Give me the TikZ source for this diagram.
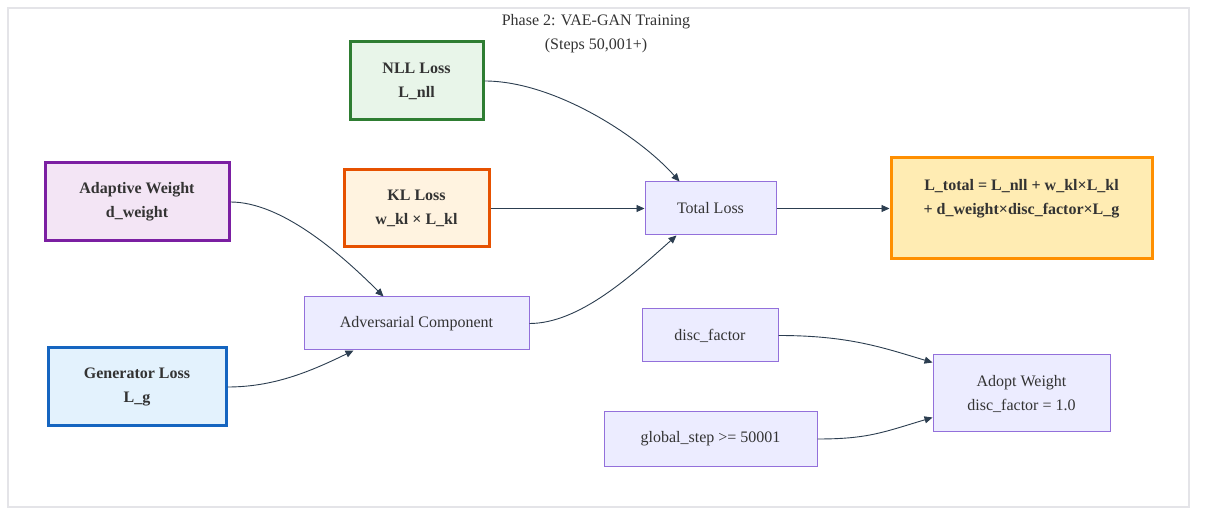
\documentclass[tikz,border=0pt]{standalone}
\usepackage{fontspec}
\setmainfont{Liberation Serif}
\usetikzlibrary{arrows.meta}
\definecolor{txt}{HTML}{333333}
\definecolor{edge}{HTML}{2C3E50}
\definecolor{defbd}{HTML}{9370DB}
\definecolor{deffill}{HTML}{ECECFF}
\tikzset{
  every node/.style={font=\fontsize{16}{24}\selectfont, text=txt, align=center, inner sep=0pt},
  plain/.style={draw=defbd, fill=deffill, line width=1pt},
  colbox/.style={line width=3pt, font=\fontsize{16}{24}\selectfont\bfseries},
  conn/.style={draw=edge, line width=0.9pt, -{Triangle[length=8pt,width=7pt]}},
}
\begin{document}
\begin{tikzpicture}[x=1pt,y=-1pt]
\useasboundingbox (0,0) rectangle (1205,518);
\node[draw={rgb,255:red,228;green,228;blue,232}, fill=white, line width=1.5pt, minimum width=1181pt, minimum height=499pt] (frame) at (598.5,257.5) {};
\node (title) at (596,34) {Phase 2: VAE-GAN Training\\(Steps 50,001+)};

\node[colbox, draw={rgb,255:red,46;green,125;blue,50}, fill={rgb,255:red,232;green,245;blue,233}, minimum width=133pt, minimum height=78pt] (nll) at (416.5,81) {NLL Loss\\L\_nll};
\node[colbox, draw={rgb,255:red,230;green,81;blue,0}, fill={rgb,255:red,255;green,243;blue,224}, minimum width=145pt, minimum height=77pt] (kl) at (416.5,208.5) {KL Loss\\w\_kl × L\_kl};
\node[colbox, draw={rgb,255:red,123;green,31;blue,162}, fill={rgb,255:red,243;green,229;blue,245}, minimum width=184pt, minimum height=78pt] (adw) at (137,202) {Adaptive Weight\\d\_weight};
\node[colbox, draw={rgb,255:red,21;green,101;blue,192}, fill={rgb,255:red,227;green,242;blue,253}, minimum width=178pt, minimum height=78pt] (gen) at (137,387) {Generator Loss\\L\_g};
\node[colbox, draw={rgb,255:red,255;green,143;blue,0}, fill={rgb,255:red,255;green,236;blue,179}, minimum width=261pt, minimum height=101pt] (ltot) at (1021.5,208.5) {L\_total = L\_nll + w\_kl×L\_kl\\+ d\_weight×disc\_factor×L\_g\\\mbox{}};

\node[plain, minimum width=131pt, minimum height=53pt] (total) at (710.5,208.5) {Total Loss};
\node[plain, minimum width=225pt, minimum height=53pt] (adv) at (416.5,323.5) {Adversarial Component};
\node[plain, minimum width=136pt, minimum height=53pt] (disc) at (710,335.5) {disc\_factor};
\node[plain, minimum width=213pt, minimum height=54pt] (gstep) at (710.5,439) {global\_step >= 50001};
\node[plain, minimum width=177pt, minimum height=77pt] (adopt) at (1021.5,393.5) {Adopt Weight\\disc\_factor = 1.0};

\draw[conn] (nll.east) .. controls +(70,0) and +(-40,-45) .. ([xshift=-31pt]total.north);
\draw[conn] (kl.east) -- (total.west);
\draw[conn] (total.east) -- (ltot.west);
\draw[conn] (adw.east) .. controls +(50,0) and +(-45,-45) .. ([xshift=-33pt]adv.north);
\draw[conn] (gen.east) .. controls +(45,0) and +(-45,22) .. ([xshift=-63pt]adv.south);
\draw[conn] (adv.east) .. controls +(50,0) and +(-45,40) .. ([xshift=-34pt]total.south);
\draw[conn] (disc.east) .. controls +(70,0) and +(-50,-15) .. ([yshift=31pt]adopt.west);
\draw[conn] (gstep.east) .. controls +(50,0) and +(-50,15) .. ([yshift=-24pt]adopt.west);
\end{tikzpicture}
\end{document}
